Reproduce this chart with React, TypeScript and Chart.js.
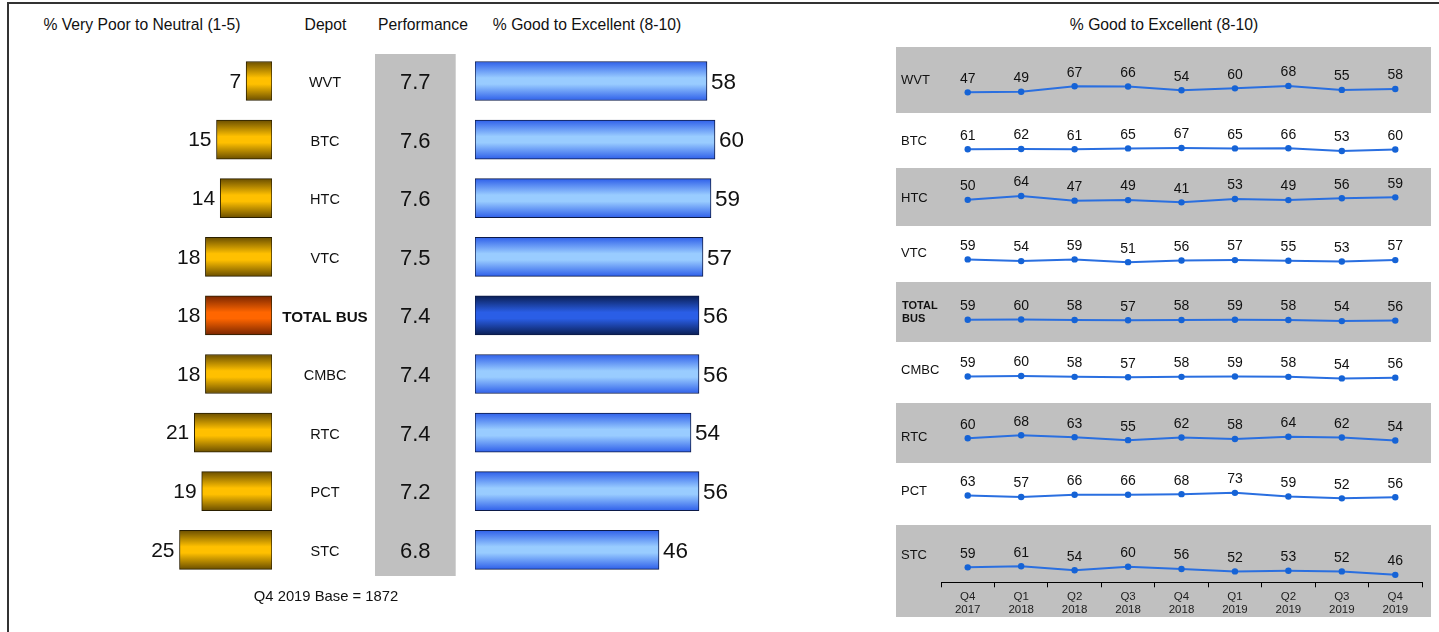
import React, { useEffect, useRef } from "react";
import { Chart, registerables } from "chart.js";

Chart.register(...registerables);

// ---------------- DATA ----------------
const depots = ["WVT", "BTC", "HTC", "VTC", "TOTAL BUS", "CMBC", "RTC", "PCT", "STC"];
const poorToNeutral = [7, 15, 14, 18, 18, 18, 21, 19, 25];
const performanceScores = ["7.7", "7.6", "7.6", "7.5", "7.4", "7.4", "7.4", "7.2", "6.8"];
const goodToExcellent = [58, 60, 59, 57, 56, 56, 54, 56, 46];

const quarters = [
  ["Q4", "2017"], ["Q1", "2018"], ["Q2", "2018"], ["Q3", "2018"], ["Q4", "2018"],
  ["Q1", "2019"], ["Q2", "2019"], ["Q3", "2019"], ["Q4", "2019"],
];
const trendWVT = [47, 49, 67, 66, 54, 60, 68, 55, 58];
const trendBTC = [61, 62, 61, 65, 67, 65, 66, 53, 60];
const trendHTC = [50, 64, 47, 49, 41, 53, 49, 56, 59];
const trendVTC = [59, 54, 59, 51, 56, 57, 55, 53, 57];
const trendTOTAL = [59, 60, 58, 57, 58, 59, 58, 54, 56];
const trendCMBC = [59, 60, 58, 57, 58, 59, 58, 54, 56];
const trendRTC = [60, 68, 63, 55, 62, 58, 64, 62, 54];
const trendPCT = [63, 57, 66, 66, 68, 73, 59, 52, 56];
const trendSTC = [59, 61, 54, 60, 56, 52, 53, 52, 46];
const trendSeries = [trendWVT, trendBTC, trendHTC, trendVTC, trendTOTAL, trendCMBC, trendRTC, trendPCT, trendSTC];
const trendRowLabels: (string | string[])[] = ["WVT", "BTC", "HTC", "VTC", ["TOTAL", "BUS"], "CMBC", "RTC", "PCT", "STC"];

const headerPoor = "% Very Poor to Neutral (1-5)";
const headerDepot = "Depot";
const headerPerf = "Performance";
const headerGood = "% Good to Excellent (8-10)";
const baseNote = "Q4 2019 Base = 1872";
const highlightDepot = "TOTAL BUS";

// ---------------- LAYOUT / STYLE ----------------
const FONT = 'Arial, "Liberation Sans", Helvetica, sans-serif';
const GRAY = "#c0c0c0";
const LEFT_CANVAS_TOP = 40;
const LEFT_CANVAS_H = 560;
const LEFT_PAD_TOP = 11.7;
const LEFT_PAD_BOTTOM = 20.9;
const ORANGE_STOPS = ["#6b4f00", "#ffc000", "#ffc000", "#6b4f00"];
const ORANGE_HI_STOPS = ["#7a2600", "#ff6600", "#ff6600", "#7a2600"];
const BLUE_STOPS = ["#2f60ea", "#99ccff", "#99ccff", "#2f60ea"];
const BLUE_HI_STOPS = ["#0a1f55", "#2a5ee6", "#2a5ee6", "#0a1f55"];

const TREND_LEFT = 896;
const TREND_WIDTH = 535;
const TREND_BOXES = [
  { top: 47, bottom: 113, gray: true, k: 0.35, zeroY: 110.5, labelY: 80.7 },
  { top: 113, bottom: 168, gray: false, k: 0.25, zeroY: 166, labelY: 141.7 },
  { top: 168, bottom: 226, gray: true, k: 0.32, zeroY: 216.3, labelY: 198 },
  { top: 226, bottom: 282, gray: false, k: 0.4, zeroY: 283.9, labelY: 253 },
  { top: 282, bottom: 342, gray: true, k: 0.3, zeroY: 338.7, labelY: 312.5 },
  { top: 342, bottom: 403, gray: false, k: 0.45, zeroY: 403.6, labelY: 370 },
  { top: 403, bottom: 463, gray: true, k: 0.43, zeroY: 464.9, labelY: 437.7 },
  { top: 463, bottom: 525, gray: false, k: 0.3, zeroY: 514.6, labelY: 491.7 },
  { top: 525, bottom: 617, gray: true, k: 0.62, zeroY: 602.8, labelY: 555, axisY: 582.3 },
];

function barGradient(ctx: any, normal: string[], hi: string[]) {
  const chart = ctx.chart;
  const i = ctx.dataIndex;
  const stops = depots[i] === highlightDepot ? hi : normal;
  const ys = chart.scales && chart.scales.y;
  if (!ys || i === undefined || i === null) return stops[1];
  const cy = ys.getPixelForValue(i);
  if (!Number.isFinite(cy)) return stops[1];
  const g = chart.ctx.createLinearGradient(0, cy - 19.5, 0, cy + 19.5);
  g.addColorStop(0, stops[0]);
  g.addColorStop(0.42, stops[1]);
  g.addColorStop(0.58, stops[2]);
  g.addColorStop(1, stops[3]);
  return g;
}

function OrangeChart() {
  const ref = useRef<HTMLCanvasElement>(null);
  useEffect(() => {
    const left = 120;
    const chart = new Chart(ref.current as HTMLCanvasElement, {
      type: "bar",
      data: {
        labels: depots,
        datasets: [
          {
            data: poorToNeutral,
            backgroundColor: (c: any) => barGradient(c, ORANGE_STOPS, ORANGE_HI_STOPS),
            borderColor: "#2a1f00",
            borderWidth: 1,
            borderSkipped: false,
            barThickness: 39,
          } as any,
        ],
      },
      options: {
        indexAxis: "y",
        responsive: false,
        animation: false,
        layout: { padding: { left: 4, right: 198, top: LEFT_PAD_TOP, bottom: LEFT_PAD_BOTTOM } },
        scales: {
          x: { display: false, reverse: true, min: 0, max: 40 },
          y: { display: false },
        },
        plugins: { legend: { display: false }, tooltip: { enabled: false } },
      },
      plugins: [
        {
          id: "decor",
          beforeDatasetsDraw(ch: any) {
            const c = ch.ctx;
            c.save();
            c.fillStyle = GRAY;
            c.fillRect(375 - left, 54 - LEFT_CANVAS_TOP, 80.7, 522);
            c.restore();
          },
          afterDatasetsDraw(ch: any) {
            const c = ch.ctx;
            const meta = ch.getDatasetMeta(0);
            const ys = ch.scales.y;
            c.save();
            c.fillStyle = "#111";
            c.textBaseline = "middle";
            meta.data.forEach((el: any, i: number) => {
              c.font = `21px ${FONT}`;
              c.textAlign = "right";
              c.fillText(String(poorToNeutral[i]), el.x - 5, el.y + 1);
              const y = ys.getPixelForValue(i) + 2;
              c.textAlign = "center";
              if (depots[i] === highlightDepot) {
                c.font = `bold 15.2px ${FONT}`;
              } else {
                c.font = `14.5px ${FONT}`;
              }
              c.fillText(depots[i], 325 - left, y);
              c.font = `22px ${FONT}`;
              c.fillText(performanceScores[i], 415.3 - left, y);
            });
            c.restore();
          },
        },
      ],
    } as any);
    return () => chart.destroy();
  }, []);
  return (
    <canvas
      ref={ref}
      width={350}
      height={LEFT_CANVAS_H}
      style={{ position: "absolute", left: 120, top: LEFT_CANVAS_TOP, width: 350, height: LEFT_CANVAS_H }}
    />
  );
}

function BlueChart() {
  const ref = useRef<HTMLCanvasElement>(null);
  useEffect(() => {
    const chart = new Chart(ref.current as HTMLCanvasElement, {
      type: "bar",
      data: {
        labels: depots,
        datasets: [
          {
            data: goodToExcellent,
            backgroundColor: (c: any) => barGradient(c, BLUE_STOPS, BLUE_HI_STOPS),
            borderColor: "#0c1a48",
            borderWidth: 1,
            borderSkipped: false,
            barThickness: 39,
          } as any,
        ],
      },
      options: {
        indexAxis: "y",
        responsive: false,
        animation: false,
        layout: { padding: { left: 15, right: 25, top: LEFT_PAD_TOP, bottom: LEFT_PAD_BOTTOM } },
        scales: {
          x: { display: false, min: 0, max: 70 },
          y: { display: false },
        },
        plugins: { legend: { display: false }, tooltip: { enabled: false } },
      },
      plugins: [
        {
          id: "vals",
          afterDatasetsDraw(ch: any) {
            const c = ch.ctx;
            const meta = ch.getDatasetMeta(0);
            c.save();
            c.fillStyle = "#111";
            c.textBaseline = "middle";
            c.textAlign = "left";
            c.font = `22.5px ${FONT}`;
            meta.data.forEach((el: any, i: number) => {
              c.fillText(String(goodToExcellent[i]), el.x + 4, el.y + 1.5);
            });
            c.restore();
          },
        },
      ],
    } as any);
    return () => chart.destroy();
  }, []);
  return (
    <canvas
      ref={ref}
      width={320}
      height={LEFT_CANVAS_H}
      style={{ position: "absolute", left: 460, top: LEFT_CANVAS_TOP, width: 320, height: LEFT_CANVAS_H }}
    />
  );
}

function TrendRow({ index }: { index: number }) {
  const ref = useRef<HTMLCanvasElement>(null);
  const box: any = TREND_BOXES[index];
  const height = box.bottom - box.top;
  useEffect(() => {
    const values = trendSeries[index];
    const hasAxis = box.axisY !== undefined;
    const chartBottom = hasAxis ? box.axisY : box.bottom;
    const yMin = (box.zeroY - chartBottom) / box.k;
    const yMax = yMin + (chartBottom - box.top) / box.k;
    const chart = new Chart(ref.current as HTMLCanvasElement, {
      type: "line",
      data: {
        labels: quarters,
        datasets: [
          {
            data: values,
            borderColor: "#2a6fe0",
            borderWidth: 2,
            pointRadius: 3.2,
            pointBackgroundColor: "#1563d6",
            pointBorderWidth: 0,
            tension: 0,
            clip: false,
          } as any,
        ],
      },
      options: {
        responsive: false,
        animation: false,
        layout: { padding: { left: 45, right: 9, top: 0, bottom: 0 } },
        scales: {
          x: hasAxis
            ? {
                display: true,
                offset: true,
                grid: {
                  display: true,
                  drawOnChartArea: false,
                  drawTicks: true,
                  tickLength: 5,
                  color: "#000",
                  offset: true,
                  lineWidth: 1,
                },
                border: { display: true, color: "#000", width: 1 },
                ticks: {
                  color: "#222",
                  font: { family: FONT, size: 11.5, lineHeight: 1.15 },
                  padding: 3,
                  maxRotation: 0,
                  autoSkip: false,
                },
                afterFit: (scale: any) => {
                  scale.height = box.bottom - box.axisY;
                },
              }
            : { display: false, offset: true },
          y: { display: false, min: yMin, max: yMax },
        },
        plugins: { legend: { display: false }, tooltip: { enabled: false } },
      },
      plugins: [
        {
          id: "rowDecor",
          beforeDraw(ch: any) {
            if (!box.gray) return;
            const c = ch.ctx;
            c.save();
            c.fillStyle = GRAY;
            c.fillRect(0, 0, ch.width, ch.height);
            c.restore();
          },
          afterDatasetsDraw(ch: any) {
            const c = ch.ctx;
            const meta = ch.getDatasetMeta(0);
            c.save();
            c.fillStyle = "#111";
            c.textBaseline = "middle";
            c.textAlign = "center";
            c.font = `14px ${FONT}`;
            meta.data.forEach((el: any, i: number) => {
              c.fillText(String(values[i]), el.x, el.y - 13.5);
            });
            const label = trendRowLabels[index];
            c.textAlign = "left";
            const ly = box.labelY - box.top;
            if (Array.isArray(label)) {
              c.font = `bold 11px ${FONT}`;
              c.fillText(label[0], 6, ly - 6.5);
              c.fillText(label[1], 6, ly + 6.5);
            } else {
              c.font = `13px ${FONT}`;
              c.fillText(label, 5, ly);
            }
            c.restore();
          },
        },
      ],
    } as any);
    return () => chart.destroy();
  }, [index]);
  return (
    <canvas
      ref={ref}
      width={TREND_WIDTH}
      height={height}
      style={{ position: "absolute", left: TREND_LEFT, top: box.top, width: TREND_WIDTH, height }}
    />
  );
}

function Header({ text, cx, cy, size = 15.5 }: { text: string; cx: number; cy: number; size?: number }) {
  return (
    <div
      style={{
        position: "absolute",
        left: cx - 150,
        top: cy - 10,
        width: 300,
        height: 20,
        lineHeight: "20px",
        textAlign: "center",
        fontFamily: FONT,
        fontSize: size,
        color: "#111",
        whiteSpace: "nowrap",
      }}
    >
      {text}
    </div>
  );
}

export default function App() {
  return (
    <div
      style={{
        position: "absolute",
        left: 0,
        top: 0,
        width: 1439,
        height: 632,
        overflow: "hidden",
        background: "#fff",
      }}
    >
      <div
        style={{
          position: "absolute",
          left: 7,
          top: 2,
          width: 1500,
          height: 700,
          border: "2px solid #333",
          boxSizing: "border-box",
        }}
      />
      <Header text={headerPoor} cx={142} cy={25} size={15.7} />
      <Header text={headerDepot} cx={325.5} cy={25} size={15.7} />
      <Header text={headerPerf} cx={423} cy={25} size={15.7} />
      <Header text={headerGood} cx={587} cy={25} size={15.7} />
      <Header text={headerGood} cx={1164} cy={25} size={15.7} />
      <OrangeChart />
      <BlueChart />
      {TREND_BOXES.map((_, i) => (
        <TrendRow key={i} index={i} />
      ))}
      <Header text={baseNote} cx={326} cy={596} size={14.8} />
    </div>
  );
}
